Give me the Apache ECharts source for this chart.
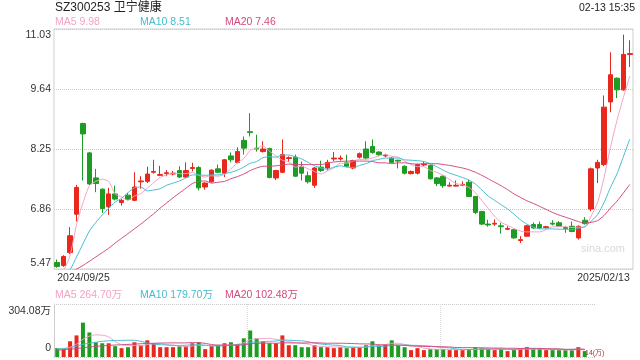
<!DOCTYPE html>
<html><head><meta charset="utf-8">
<script src="https://cdn.jsdelivr.net/npm/echarts@6/dist/echarts.min.js"></script>
<style>html,body{margin:0;padding:0;background:#fff}#c{width:640px;height:360px}</style>
</head><body><div id="c"></div>
<script>
const dates = ['2024/09/25','2024/09/26','2024/09/27','2024/09/30',
'2024/10/08','2024/10/09','2024/10/10','2024/10/11','2024/10/14','2024/10/15','2024/10/16','2024/10/17','2024/10/18','2024/10/21','2024/10/22','2024/10/23','2024/10/24','2024/10/25','2024/10/28','2024/10/29','2024/10/30','2024/10/31',
'2024/11/01','2024/11/04','2024/11/05','2024/11/06','2024/11/07','2024/11/08','2024/11/11','2024/11/12','2024/11/13','2024/11/14','2024/11/15','2024/11/18','2024/11/19','2024/11/20','2024/11/21','2024/11/22','2024/11/25','2024/11/26','2024/11/27','2024/11/28','2024/11/29',
'2024/12/02','2024/12/03','2024/12/04','2024/12/05','2024/12/06','2024/12/09','2024/12/10','2024/12/11','2024/12/12','2024/12/13','2024/12/16','2024/12/17','2024/12/18','2024/12/19','2024/12/20','2024/12/23','2024/12/24','2024/12/25','2024/12/26','2024/12/27','2024/12/30','2024/12/31',
'2025/01/02','2025/01/03','2025/01/06','2025/01/07','2025/01/08','2025/01/09','2025/01/10','2025/01/13','2025/01/14','2025/01/15','2025/01/16','2025/01/17','2025/01/20','2025/01/21','2025/01/22','2025/01/23','2025/01/24','2025/01/27',
'2025/02/05','2025/02/06','2025/02/07','2025/02/10','2025/02/11','2025/02/12','2025/02/13'];

const openP = [5.62,5.55,5.85,6.74,8.84,8.16,7.58,7.32,6.91,7.21, 7.01,7.18,7.06,7.49,7.50,7.71,7.64,7.68,7.67,7.75, 7.60,7.80,7.82,7.37,7.49,7.79,7.69,8.09,7.94,8.45, 8.65,8.27,8.19,8.26,7.58,7.71,8.03,8.06,7.85,7.63, 7.41,7.83,7.81,8.02,8.02,7.93,7.81,8.06,8.25,8.31, 8.18,8.09,8.04,7.99,7.85,7.68,7.69,7.88,7.87,7.58, 7.62,7.39,7.39,7.41,7.48,7.15,6.80,6.51,6.51,6.47, 6.39,6.38,6.13,6.23,6.50,6.50,6.43,6.53,6.54,6.43, 6.46,6.19,6.60,6.86,7.81,7.89,9.34,9.89,9.62,10.44];
const closeP = [5.53,5.76,6.24,7.36,8.60,7.44,7.45,6.87,7.21,7.09, 7.06,7.08,7.37,7.51,7.67,7.73,7.66,7.70,7.69,7.60, 7.75,7.82,7.35,7.46,7.76,7.71,8.00,8.00,8.19,8.27, 8.63,8.25,8.25,7.59,7.75,8.12,8.05,7.62,7.69,7.49, 7.81,7.75,7.94,8.04,8.04,7.85,7.98,8.14,8.04,8.17, 8.12,8.11,7.94,7.97,7.69,7.73,7.89,7.90,7.56,7.45, 7.40,7.41,7.41,7.43,7.15,6.78,6.51,6.49,6.53,6.45, 6.41,6.19,6.15,6.47,6.42,6.42,6.45,6.51,6.46,6.41, 6.34,6.46,6.52,7.79,7.94,9.22,9.97,9.62,10.44,10.46];
const lowP = [5.50,5.52,5.82,6.57,7.52,7.42,7.25,6.77,6.72,7.06, 6.94,7.06,7.04,7.33,7.46,7.68,7.62,7.62,7.64,7.58, 7.58,7.73,7.29,7.31,7.47,7.69,7.60,7.94,7.92,8.12, 8.54,8.19,8.17,7.57,7.53,7.69,7.95,7.60,7.52,7.45, 7.35,7.72,7.75,7.97,7.98,7.83,7.78,8.03,8.01,8.14, 8.08,8.06,7.92,7.80,7.66,7.66,7.66,7.85,7.54,7.39, 7.35,7.38,7.38,7.39,7.14,6.74,6.49,6.45,6.47,6.29, 6.37,6.17,6.07,6.22,6.40,6.40,6.41,6.48,6.44,6.31, 6.32,6.15,6.50,6.81,7.46,7.85,9.10,9.43,9.60,10.15];
const highP = [5.69,5.79,6.44,7.42,8.86,8.18,7.79,7.34,7.35,7.40, 7.09,7.23,7.71,7.62,7.84,8.00,7.86,7.76,7.74,7.85, 7.94,7.93,7.85,7.48,7.78,7.89,8.02,8.17,8.29,8.54, 9.08,8.58,8.43,8.28,7.77,8.47,8.08,8.12,7.96,7.73, 7.83,7.98,8.00,8.18,8.10,8.12,8.00,8.17,8.43,8.47, 8.20,8.14,8.06,8.00,7.87,7.75,7.91,7.96,7.89,7.60, 7.64,7.48,7.52,7.50,7.54,7.16,6.82,6.61,6.62,6.54, 6.46,6.40,6.23,6.49,6.55,6.57,6.47,6.60,6.58,6.46, 6.57,6.48,6.67,7.82,8.00,9.49,10.49,9.91,10.90,10.77];

const ma5 = [5.35,5.45,5.78,6.50,7.00,7.40,7.50,7.55,7.50,7.21, 7.14,7.06,7.16,7.22,7.34,7.47,7.59,7.65,7.69,7.68, 7.68,7.71,7.64,7.60,7.63,7.62,7.66,7.79,7.93,8.03, 8.22,8.27,8.32,8.20,8.09,7.99,7.95,7.83,7.85,7.79, 7.73,7.67,7.74,7.81,7.92,7.92,7.97,8.01,8.01,8.04, 8.09,8.12,8.08,8.06,7.97,7.89,7.84,7.84,7.75,7.71, 7.64,7.54,7.45,7.42,7.36,7.24,7.06,6.87,6.69,6.55, 6.48,6.41,6.35,6.33,6.33,6.33,6.38,6.45,6.45,6.45, 6.43,6.44,6.44,6.70,7.01,7.59,8.29,8.91,9.44,9.94];
const ma10 = [5.20,5.30,5.45,5.75,6.05,6.35,6.55,6.72,6.88,7.02, 7.11,7.24,7.35,7.37,7.28,7.30,7.33,7.41,7.46,7.51, 7.58,7.65,7.65,7.64,7.65,7.65,7.68,7.71,7.76,7.83, 7.92,7.96,8.05,8.07,8.06,8.11,8.11,8.07,8.02,7.94, 7.86,7.81,7.78,7.83,7.86,7.83,7.82,7.87,7.91,7.98, 8.01,8.04,8.04,8.04,8.00,7.99,7.98,7.96,7.91,7.84, 7.76,7.69,7.64,7.59,7.53,7.44,7.30,7.16,7.06,6.96, 6.86,6.74,6.61,6.51,6.44,6.40,6.40,6.40,6.39,6.39, 6.38,6.41,6.45,6.58,6.73,7.01,7.36,7.67,8.07,8.48];
const ma20 = [5.20,5.30,5.40,5.47,5.55,5.65,5.75,5.85,5.95,6.07, 6.18,6.29,6.40,6.51,6.63,6.75,6.88,7.00,7.12,7.23, 7.34,7.45,7.50,7.51,7.46,7.48,7.50,7.56,7.61,7.67, 7.75,7.81,7.85,7.85,7.86,7.88,7.90,7.89,7.89,7.89, 7.89,7.89,7.92,7.95,7.96,7.97,7.97,7.97,7.97,7.96, 7.93,7.93,7.91,7.93,7.93,7.91,7.90,7.91,7.91,7.91, 7.89,7.87,7.84,7.81,7.77,7.71,7.64,7.56,7.48,7.40, 7.31,7.21,7.13,7.05,6.99,6.92,6.85,6.78,6.72,6.67, 6.62,6.57,6.53,6.55,6.59,6.71,6.88,7.04,7.23,7.43];

const volume = [50.7,45.0,90.1,123.9,197.1,140.8,84.5,78.8,78.8,61.9, 50.7,56.3,84.5,67.6,95.7,78.8,56.3,56.3,56.3,61.9, 61.9,78.8,84.5,45.0,61.9,67.6,78.8,84.5,73.2,107.0, 152.0,107.0,90.1,78.8,78.8,123.9,67.6,67.6,56.3,56.3, 67.6,56.3,56.3,50.7,56.3,50.7,56.3,56.3,67.6,90.1, 67.6,73.2,95.7,67.6,56.3,39.4,50.7,39.4,45.0,45.0, 45.0,39.4,39.4,39.4,45.0,56.3,50.7,45.0,39.4,45.0, 33.8,45.0,50.7,56.3,45.0,45.0,39.4,39.4,39.4,39.4, 39.4,56.3,33.8,null,null,null,null,null,null,null];
const volMa5 = [45.0,47.9,56.3,73.2,101.3,119.4,127.2,125.0,116.0,89.0, 70.9,65.3,66.4,64.2,70.9,76.6,76.6,70.9,68.7,61.9, 58.6,63.1,68.7,66.4,66.4,67.6,67.6,67.6,73.2,82.2, 99.1,104.7,105.8,107.0,101.3,95.7,87.8,83.3,78.8,74.3, 63.1,60.8,58.6,57.4,57.4,54.0,54.0,54.0,57.4,64.2, 67.6,70.9,78.8,78.8,72.1,66.4,61.9,50.7,46.2,43.9, 45.0,42.8,42.8,41.7,41.7,43.9,46.2,47.3,47.3,47.3, 42.8,41.7,42.8,46.2,46.2,48.4,47.3,45.0,41.7,40.5, 39.4,42.8,41.7,null,null,null,null,null,null,null];
const volMa10 = [45.0,47.9,53.5,61.9,73.2,78.8,84.5,90.1,92.9,95.1, 95.1,96.3,95.7,90.1,79.9,73.8,70.9,68.7,66.4,66.4, 67.6,69.8,69.8,67.6,64.2,63.1,65.3,68.1,69.8,74.3, 83.3,86.1,86.7,90.1,91.8,97.4,96.3,94.6,92.9,87.8, 79.4,74.3,70.9,68.1,65.9,58.6,57.4,56.3,57.4,60.8, 60.8,62.5,66.4,68.1,68.1,67.0,66.4,64.7,62.5,58.0, 55.7,52.4,46.7,43.9,42.8,44.5,44.5,45.0,44.5,44.5, 43.4,43.9,45.0,46.7,46.7,45.6,44.5,43.9,43.9,43.4, 43.9,45.0,43.4,null,null,null,null,null,null,null];
const volMa20 = [39.4,42.2,45.0,47.9,53.5,57.4,60.8,63.6,66.4,68.7, 70.4,72.1,74.3,76.0,77.7,78.8,79.9,80.5,81.1,80.8, 81.1,82.8,82.2,78.3,71.5,68.1,68.1,68.1,68.1,70.4, 75.4,78.3,78.8,79.4,78.8,81.6,81.1,80.5,79.9,81.1, 81.6,80.5,78.8,79.4,78.8,78.3,77.1,75.4,74.9,74.3, 70.4,68.7,68.7,68.1,67.0,63.1,61.9,60.8,60.2,59.7, 58.6,57.4,54.6,54.0,53.5,53.5,52.9,51.8,51.2,51.2, 50.1,50.1,49.0,49.5,49.5,49.0,47.9,47.3,46.7,43.9, 43.9,44.5,44.5,null,null,null,null,null,null,null];

const priceMin = 5.47, priceMax = 11.03, priceStep = 1.39;
const volMax = 304.08;

const RED = '#e8271d', GREEN = '#1e9b23';
const C5 = '#f2a3c6', C10 = '#45bcd2', C20 = '#d24a7e';
const FONT = '"Liberation Sans", "Noto Sans CJK SC", sans-serif';

const kData = openP.map((o, i) => [o, closeP[i], lowP[i], highP[i]]);
const volData = volume.map((v, i) => ({ value: v, itemStyle: { color: closeP[i] >= openP[i] ? RED : GREEN } }));

function txt(x, y, text, fill, size, align) {
  return { type: 'text', x: x, y: y, z: 100,
    style: { text: text, fill: fill, font: size + 'px ' + FONT, textAlign: align || 'left', textVerticalAlign: 'middle' } };
}

const chart = echarts.init(document.getElementById('c'), null, { renderer: 'canvas' });
const lblBase = { color: '#333', fontSize: 10.5, fontFamily: FONT };
chart.setOption({
  animation: false,
  backgroundColor: '#fff',
  grid: [
    { left: 54, right: 7, top: 29, height: 240, show: true, borderColor: '#cfcfcf', borderWidth: 1 },
    { left: 54, right: 7, top: 304, height: 53 }
  ],
  xAxis: [
    { type: 'category', gridIndex: 0, data: dates, boundaryGap: true,
      axisLine: { show: false }, axisTick: { show: false }, splitLine: { show: false },
      axisLabel: { ...lblBase, margin: 4, interval: (i) => i === 0 || i === dates.length - 1,
        alignMinLabel: 'left', alignMaxLabel: 'right' } },
    { type: 'category', gridIndex: 1, data: dates, boundaryGap: true,
      axisLine: { show: false }, axisTick: { show: false }, axisLabel: { show: false },
      splitLine: { show: true, interval: (i) => i === 30 || i === 60, lineStyle: { color: '#d8d8d8', type: 'dotted' } } }
  ],
  yAxis: [
    { type: 'value', gridIndex: 0, min: priceMin, max: priceMax, interval: priceStep,
      axisLine: { show: false }, axisTick: { show: false },
      splitLine: { show: true, lineStyle: { color: '#c8c8c8', type: 'dotted' } },
      axisLabel: { ...lblBase, margin: 3,
        formatter: (v) => {
          const s = v.toFixed(2);
          if (Math.abs(v - priceMax) < 0.001) return '{t|' + s + '}';
          if (Math.abs(v - priceMin) < 0.001) return '{b|' + s + '}';
          return s;
        },
        rich: { t: { ...lblBase, padding: [12, 0, 0, 0] }, b: { ...lblBase, padding: [0, 0, 12, 0] } } } },
    { type: 'value', gridIndex: 1, min: 0, max: volMax, interval: volMax,
      axisLine: { show: true, lineStyle: { color: '#cfcfcf' } }, axisTick: { show: false },
      splitLine: { show: true, lineStyle: { color: '#c8c8c8', type: 'dotted' } },
      axisLabel: { ...lblBase, margin: 3,
        formatter: (v) => v === 0 ? '{b|0}' : '{t|' + v.toFixed(2) + '万}',
        rich: { t: { ...lblBase, padding: [14, 0, 0, 0] }, b: { ...lblBase, padding: [0, 0, 18, 0] } } } }
  ],
  series: [
    { type: 'candlestick', xAxisIndex: 0, yAxisIndex: 0, data: kData, barWidth: 5,
      itemStyle: { color: RED, color0: GREEN, borderColor: RED, borderColor0: GREEN, borderWidth: 1 } },
    { type: 'line', name: 'MA5', xAxisIndex: 0, yAxisIndex: 0, data: ma5, symbol: 'none', smooth: 0.2,
      lineStyle: { color: C5, width: 1 } },
    { type: 'line', name: 'MA10', xAxisIndex: 0, yAxisIndex: 0, data: ma10, symbol: 'none', smooth: 0.2,
      lineStyle: { color: C10, width: 1 } },
    { type: 'line', name: 'MA20', xAxisIndex: 0, yAxisIndex: 0, data: ma20, symbol: 'none', smooth: 0.2,
      lineStyle: { color: C20, width: 1 } },
    { type: 'bar', xAxisIndex: 1, yAxisIndex: 1, data: volData, barWidth: 4 },
    { type: 'line', xAxisIndex: 1, yAxisIndex: 1, data: volMa5, symbol: 'none', smooth: 0.2, lineStyle: { color: C5, width: 1 } },
    { type: 'line', xAxisIndex: 1, yAxisIndex: 1, data: volMa10, symbol: 'none', smooth: 0.2, lineStyle: { color: C10, width: 1 } },
    { type: 'line', xAxisIndex: 1, yAxisIndex: 1, data: volMa20, symbol: 'none', smooth: 0.2, lineStyle: { color: C20, width: 1 } }
  ],
  graphic: [
    { type: 'rect', z: 90, shape: { x: 595, y: 300, width: 45, height: 60 }, style: { fill: '#fff' } },
    txt(55, 8, 'SZ300253 卫宁健康', '#222', 12),
    txt(635, 8, '02-13 15:35', '#222', 10.5, 'right'),
    txt(55, 22, 'MA5 9.98', C5, 10.5),
    txt(140, 22, 'MA10 8.51', C10, 10.5),
    txt(225, 22, 'MA20 7.46', C20, 10.5),
    txt(55, 295, 'MA5 264.70万', C5, 10.5),
    txt(140, 295, 'MA10 179.70万', C10, 10.5),
    txt(225, 295, 'MA20 102.48万', C20, 10.5),
    txt(603, 249, 'sina.com', '#d9d9d9', 11, 'center'),
    txt(585, 353, '14(万)', '#a33', 7)
  ]
});
</script>
</body></html>
